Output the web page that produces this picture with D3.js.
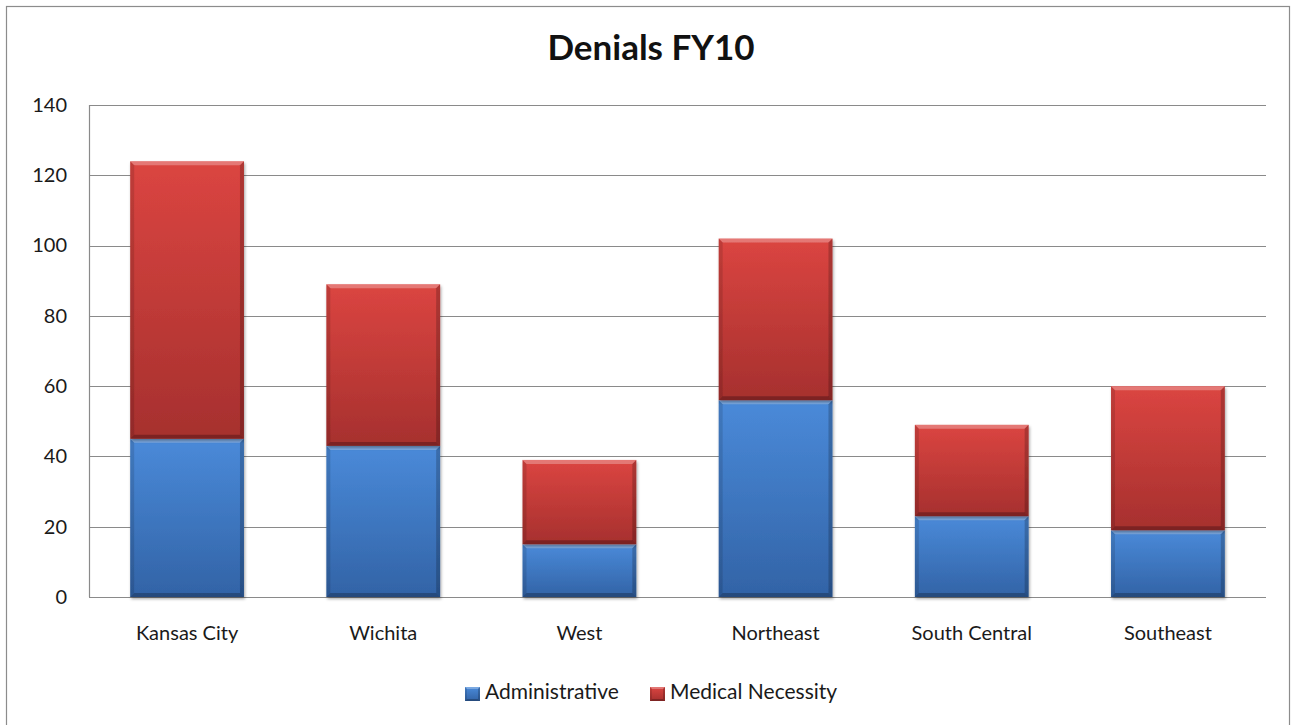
<!DOCTYPE html>
<html><head><meta charset="utf-8">
<script src="https://cdn.jsdelivr.net/npm/d3@7"></script>
<style>
html,body{margin:0;padding:0;background:#fff;}
svg{display:block;}
text{font-family:Lato,"Open Sans",sans-serif;fill:#1a1a1a;}
</style></head>
<body>
<script>
const categories = ["Kansas City","Wichita","West","Northeast","South Central","Southeast"];
const administrative = [45, 43, 15, 56, 23, 19];
const medicalNecessity = [79, 46, 24, 46, 26, 41];
const seriesNames = ["Administrative","Medical Necessity"];
const yTicks = [0,20,40,60,80,100,120,140];
const title = "Denials FY10";

(function(){
const W = 1292, H = 725;
const svg = d3.select("body").append("svg").attr("width", W).attr("height", H);
const defs = svg.append("defs");

function grad(id, c0, c1){
  const g = defs.append("linearGradient").attr("id", id).attr("x1",0).attr("y1",0).attr("x2",0).attr("y2",1);
  g.append("stop").attr("offset","0%").attr("stop-color", c0);
  g.append("stop").attr("offset","100%").attr("stop-color", c1);
}
grad("gBlue", "#4a8ad9", "#3263a6");
grad("gRed", "#db4541", "#a6302e");
const f = defs.append("filter").attr("id","shadow").attr("x","-10%").attr("y","-10%").attr("width","130%").attr("height","130%");
f.append("feDropShadow").attr("dx",1).attr("dy",2).attr("stdDeviation",1.6).attr("flood-color","#000").attr("flood-opacity",0.35);

svg.append("rect").attr("x",6.5).attr("y",6.5).attr("width",1283).attr("height",730)
  .attr("fill","none").attr("stroke","#8c8c8c").attr("stroke-width",1.2);

svg.append("text").attr("x",651).attr("y",60).attr("text-anchor","middle")
  .attr("font-size",35).attr("font-weight","bold").style("fill","#111").text(title);

const pl = 89, pr = 1266, pt = 105, pb = 597;
const x = d3.scaleBand().domain(categories).range([pl, pr]).paddingInner(0.42).paddingOuter(0.21);
const y = d3.scaleLinear().domain([0,140]).range([pb, pt]);

svg.append("g").selectAll("line").data(yTicks).join("line")
  .attr("x1", pl).attr("x2", pr)
  .attr("y1", d => Math.round(y(d))+0.5).attr("y2", d => Math.round(y(d))+0.5)
  .attr("stroke","#8a8a8a").attr("stroke-width",1.2);
svg.append("line").attr("x1",pl+0.5).attr("x2",pl+0.5).attr("y1",pt).attr("y2",pb)
  .attr("stroke","#8a8a8a").attr("stroke-width",1.2);

const yAxis = d3.axisLeft(y).tickValues(yTicks).tickSize(0).tickPadding(22);
const yg = svg.append("g").attr("transform",`translate(${pl},0)`).call(yAxis);
yg.select(".domain").remove();
yg.selectAll("text").attr("font-size",20).style("font-family","Lato,'Open Sans',sans-serif").style("fill","#1a1a1a");

const xAxis = d3.axisBottom(x).tickSize(0).tickPadding(29);
const xg = svg.append("g").attr("transform",`translate(0,${pb})`).call(xAxis);
xg.select(".domain").remove();
xg.selectAll("text").attr("font-size",20).style("font-family","Lato,'Open Sans',sans-serif").style("fill","#1a1a1a");

const stackData = categories.map((c,i)=>({cat:c, Administrative: administrative[i], "Medical Necessity": medicalNecessity[i]}));
const stacked = d3.stack().keys(seriesNames)(stackData);
const fills = {"Administrative":"url(#gBlue)","Medical Necessity":"url(#gRed)"};

function bevel(g, fill, bx, by, bw, bh, b){
  g.append("rect").attr("x",bx).attr("y",by).attr("width",bw).attr("height",bh).attr("fill", fill);
  g.append("polygon").attr("points",`${bx},${by} ${bx+bw},${by} ${bx+bw-b},${by+b} ${bx+b},${by+b}`).attr("fill","#fff").attr("opacity",0.28);
  g.append("polygon").attr("points",`${bx},${by} ${bx+b},${by+b} ${bx+b},${by+bh-b} ${bx},${by+bh}`).attr("fill","#000").attr("opacity",0.12);
  g.append("polygon").attr("points",`${bx+bw},${by} ${bx+bw-b},${by+b} ${bx+bw-b},${by+bh-b} ${bx+bw},${by+bh}`).attr("fill","#000").attr("opacity",0.2);
  g.append("polygon").attr("points",`${bx},${by+bh} ${bx+b},${by+bh-b} ${bx+bw-b},${by+bh-b} ${bx+bw},${by+bh}`).attr("fill","#000").attr("opacity",0.25);
}

const barsG = svg.append("g");
stacked.forEach(layer => {
  layer.forEach(d => {
    const bx = x(d.data.cat), bw = x.bandwidth();
    const by = y(d[1]), bh = y(d[0]) - y(d[1]);
    const g = barsG.append("g").attr("filter","url(#shadow)");
    bevel(g, fills[layer.key], bx, by, bw, bh, 4);
  });
});

const legendItems = [{name:"Administrative", x:465, fill:"url(#gBlue)"},{name:"Medical Necessity", x:650, fill:"url(#gRed)"}];
const lg = svg.append("g");
legendItems.forEach(it => {
  bevel(lg.append("g"), it.fill, it.x, 687, 15, 14, 2);
  lg.append("text").attr("x", it.x+20).attr("y", 699).attr("font-size",21).text(it.name);
});
})();
</script>
</body></html>
